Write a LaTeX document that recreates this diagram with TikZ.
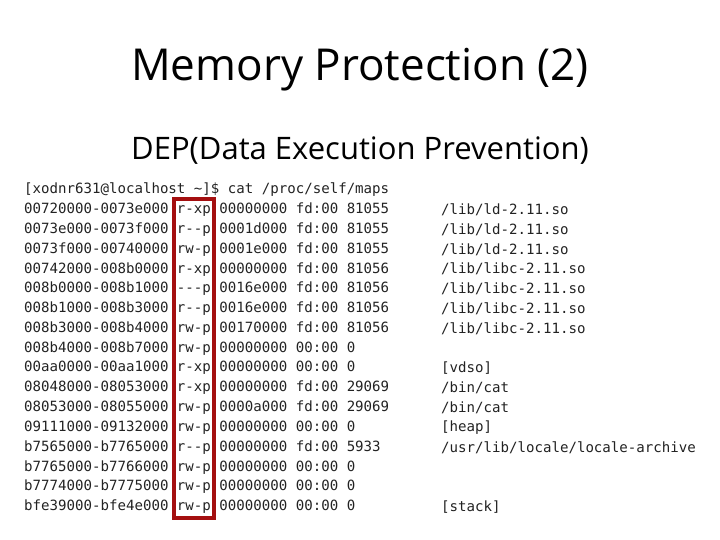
\documentclass[tikz,border=0pt]{standalone}
\usepackage{fontspec}
\setmainfont{Open Sans}
\newfontfamily\termfont{DejaVu Sans Mono}
\definecolor{boxred}{HTML}{A40F10}
\definecolor{termtext}{HTML}{222222}
\begin{document}
\begin{tikzpicture}[x=1pt,y=-1pt,
  term/.style={anchor=west,inner sep=0pt,text=termtext,font=\termfont\fontsize{14.1}{14}\selectfont},
  title/.style={inner sep=0pt,font=\fontsize{44}{46}\selectfont},
  subtitle/.style={inner sep=0pt,font=\fontsize{31}{33}\selectfont}]
\useasboundingbox (0,0) rectangle (720,540);
\node[title] (t) at (360,70) {Memory Protection (2)};
\node[subtitle] (s) at (360,151) {DEP(Data Execution Prevention)};
\node[term] (h) at (24,190) {[xodnr631@localhost \textasciitilde]\$ cat /proc/self/maps};
\foreach \i/\a/\p in {
 1/00720000-0073e000 r-xp 00000000 fd:00 81055/{/lib/ld-2.11.so},
 2/0073e000-0073f000 r--p 0001d000 fd:00 81055/{/lib/ld-2.11.so},
 3/0073f000-00740000 rw-p 0001e000 fd:00 81055/{/lib/ld-2.11.so},
 4/00742000-008b0000 r-xp 00000000 fd:00 81056/{/lib/libc-2.11.so},
 5/008b0000-008b1000 ---p 0016e000 fd:00 81056/{/lib/libc-2.11.so},
 6/008b1000-008b3000 r--p 0016e000 fd:00 81056/{/lib/libc-2.11.so},
 7/008b3000-008b4000 rw-p 00170000 fd:00 81056/{/lib/libc-2.11.so},
 8/008b4000-008b7000 rw-p 00000000 00:00 0/{},
 9/00aa0000-00aa1000 r-xp 00000000 00:00 0/{[vdso]},
 10/08048000-08053000 r-xp 00000000 fd:00 29069/{/bin/cat},
 11/08053000-08055000 rw-p 0000a000 fd:00 29069/{/bin/cat},
 12/09111000-09132000 rw-p 00000000 00:00 0/{[heap]},
 13/b7565000-b7765000 r--p 00000000 fd:00 5933/{/usr/lib/locale/locale-archive},
 14/b7765000-b7766000 rw-p 00000000 00:00 0/{},
 15/b7774000-b7775000 rw-p 00000000 00:00 0/{},
 16/bfe39000-bfe4e000 rw-p 00000000 00:00 0/{[stack]}}{
  \node[term] (l\i) at (24,{190+\i*19.8}) {\detokenize\expandafter{\a}};
  \node[term] (p\i) at (441,{190+\i*19.8}) {\p};
}
\draw[boxred,line width=4pt] (174,199) rectangle (214,518);
\end{tikzpicture}
\end{document}
